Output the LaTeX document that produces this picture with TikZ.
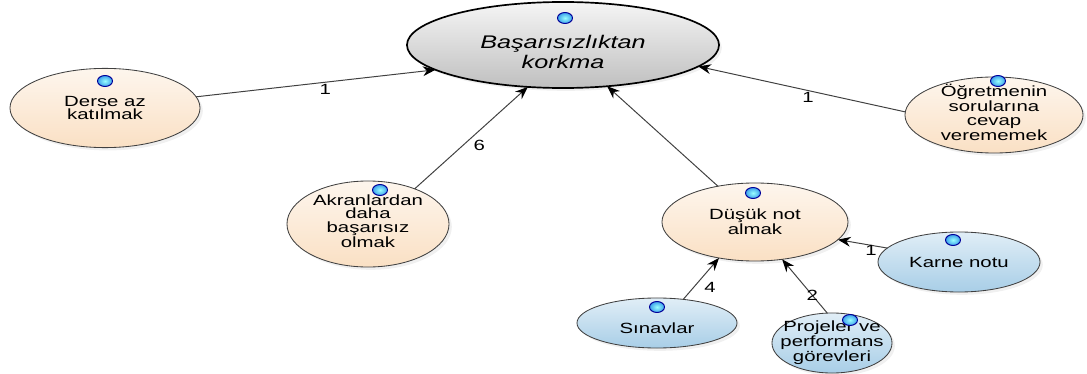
\documentclass[tikz,border=0pt]{standalone}
\usepackage{fontspec}
\setmainfont{Liberation Sans}[FakeStretch=1.38]
\usetikzlibrary{shapes.geometric,shadows,arrows.meta}
\definecolor{seftali}{RGB}{250,224,196}
\definecolor{gokmavi}{RGB}{168,206,231}
\definecolor{bilyemavi}{RGB}{60,160,235}
\newcommand\yazi{\fontsize{10.5}{9.6}\selectfont}
\newcommand\baslik{\fontsize{13}{14.2}\selectfont\itshape}
\newcommand\bilye[1]{\shadedraw[inner color=white!60!cyan, outer color=bilyemavi, draw=blue!60!black, line width=0.7pt] (#1) ellipse (7.5 and 5.5);}
\tikzset{
	kavram/.style={ellipse, draw=black!75, line width=0.6pt, inner sep=0pt, outer sep=0pt,
		drop shadow={opacity=0.12, shadow xshift=2pt, shadow yshift=-2pt}},
	neden/.style={kavram, top color=seftali!30, bottom color=seftali},
	alt/.style={kavram, top color=gokmavi!35, bottom color=gokmavi},
	ana/.style={kavram, draw=black, line width=1.2pt, top color=gray!8, bottom color=gray!50},
	every label/.style={align=center, inner sep=0pt, font=\yazi},
	ok/.style={-{Stealth[length=9pt, width=7pt, black]}, draw=black!75, line width=0.7pt},
	etiket/.style={inner sep=1pt, font=\yazi}
}
\begin{document}
\begin{tikzpicture}[x=0.025cm, y=-0.025cm, font=\yazi, line join=round, line cap=round]
	\useasboundingbox (0,0) rectangle (1087,374);
	% kavramlar
	\node[ana, minimum width=7.8cm, minimum height=2.15cm, label={[font=\baslik, yshift=-5pt]center:{Başarısızlıktan\\korkma}}] (korkma) at (563,45) {};
	\node[neden, minimum width=4.75cm, minimum height=1.98cm, label={center:{Derse az\\katılmak}}] (derse) at (105,108) {};
	\node[neden, minimum width=4.05cm, minimum height=2.15cm, label={[yshift=2pt]center:{Akranlardan\\daha\\başarısız\\olmak}}] (akran) at (368,224) {};
	\node[neden, minimum width=4.45cm, minimum height=1.9cm, label={[yshift=2pt]center:{Öğretmenin\\sorularına\\cevap\\verememek}}] (ogretmen) at (994,115) {};
	\node[neden, minimum width=4.65cm, minimum height=1.95cm, label={center:{Düşük not\\almak}}] (dusuk) at (755,222) {};
	\node[alt, minimum width=4.05cm, minimum height=1.5cm, label={center:{Karne notu}}] (karne) at (959,262) {};
	\node[alt, minimum width=4.0cm, minimum height=1.25cm, label={[yshift=-4pt]center:{Sınavlar}}] (sinav) at (657,323) {};
	\node[alt, minimum width=3.0cm, minimum height=1.5cm, label={center:{Projeler ve\\performans\\görevleri}}] (proje) at (832,343) {};
	% baglantilar
	\draw[ok] (derse.7) -- node[etiket, pos=0.54, below]{1} (korkma.191.5);
	\draw[ok] (akran.37) -- node[etiket, pos=0.43, right=6pt]{6} (korkma.230);
	\draw[ok] (dusuk.136) -- (korkma.317.5);
	\draw[ok] (ogretmen.178.7) -- node[etiket, pos=0.47, below]{1} (korkma.351.3);
	\draw[ok] (karne.169) -- node[etiket, pos=0.33, below, inner sep=0pt]{1} (dusuk.348);
	\draw[ok] (sinav.42) -- node[etiket, pos=0.3, right=6pt]{4} (dusuk.225);
	\draw[ok] (proje.99) -- node[etiket, pos=0.33]{2} (dusuk.306);
	% bilyeler
	\foreach \px/\py in {565/18, 105/81, 380/190, 998/81, 753/193, 953/240, 657/307, 850/320}
		\bilye{\px,\py};
\end{tikzpicture}
\end{document}
